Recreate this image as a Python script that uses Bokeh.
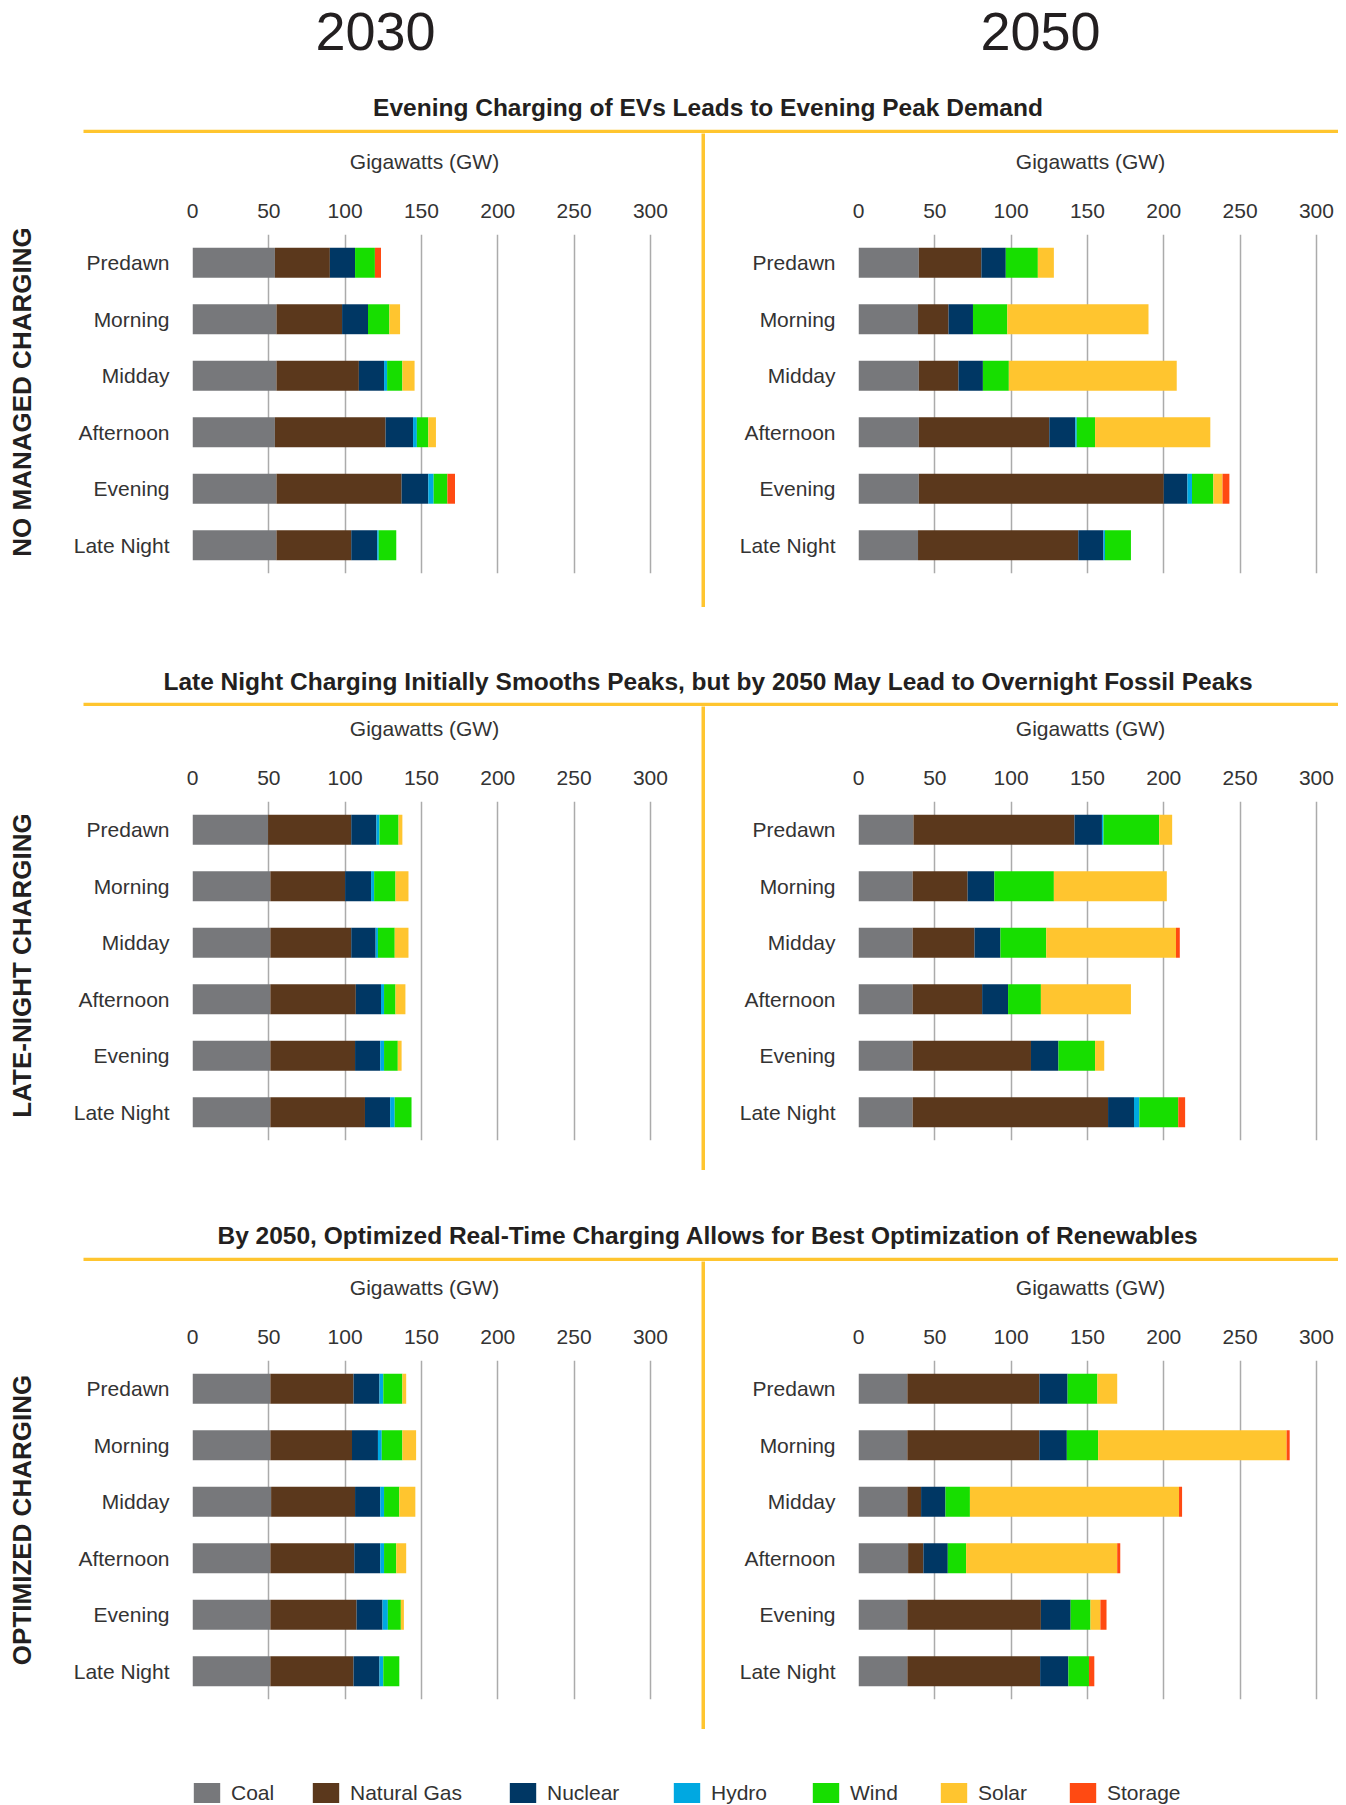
import math
from bokeh.plotting import figure
from bokeh.models import (Range1d, FactorRange, FixedTicker, Legend, LegendItem,
                          ColumnDataSource, Label)
from bokeh.layouts import column, row
from bokeh.embed import file_html
from bokeh.resources import INLINE
from bokeh.core.properties import value

# ---------------- data ----------------
periods = ["Predawn", "Morning", "Midday", "Afternoon", "Evening", "Late Night"]
sources = ["Coal", "Natural Gas", "Nuclear", "Hydro", "Wind", "Solar", "Storage"]
colors = ["#77787B", "#5B381C", "#003764", "#00A8E1", "#17DE00", "#FFC52F", "#FF4A12"]
years = ["2030", "2050"]
section_titles = [
    "Evening Charging of EVs Leads to Evening Peak Demand",
    "Late Night Charging Initially Smooths Peaks, but by 2050 May Lead to Overnight Fossil Peaks",
    "By 2050, Optimized Real-Time Charging Allows for Best Optimization of Renewables",
]
row_labels = ["NO MANAGED CHARGING", "LATE-NIGHT CHARGING", "OPTIMIZED CHARGING"]
ticks = [0, 50, 100, 150, 200, 250, 300]
axis_title = "Gigawatts (GW)"

# No managed charging, 2030 (GW)
nm30_coal = [54, 55, 55, 54, 55, 55]
nm30_gas = [36, 43, 54, 72.5, 82, 49]
nm30_nuclear = [16.5, 17, 16.5, 18, 17.5, 17]
nm30_hydro = [0, 0, 2, 2.5, 3.5, 1]
nm30_wind = [13, 14, 10, 7.5, 9, 11.5]
nm30_solar = [0, 7, 8, 5, 0, 0]
nm30_storage = [4, 0, 0, 0, 5, 0]

# No managed charging, 2050 (GW)
nm50_coal = [39.5, 39, 39.5, 39.5, 39.5, 39]
nm50_gas = [41, 20, 26, 85.5, 160.5, 105]
nm50_nuclear = [16, 16, 16, 17, 15.5, 16.5]
nm50_hydro = [0, 0, 0, 1, 3, 1]
nm50_wind = [21, 22.5, 17, 12, 14, 17]
nm50_solar = [10.5, 92.5, 110, 75.5, 6, 0]
nm50_storage = [0, 0, 0, 0, 4.5, 0]

# Late-night charging, 2030 (GW)
ln30_coal = [49.5, 51, 51, 51, 51, 51]
ln30_gas = [54.5, 49, 53, 56, 55.5, 62]
ln30_nuclear = [16.5, 17, 16, 16.5, 16.5, 16.5]
ln30_hydro = [2, 2, 1.5, 2, 2.5, 3]
ln30_wind = [12.5, 14, 11, 7.5, 9, 11]
ln30_solar = [2.5, 8.5, 9, 6.5, 2.5, 0]
ln30_storage = [0, 0, 0, 0, 0, 0]

# Late-night charging, 2050 (GW)
ln50_coal = [36, 35.5, 35.5, 35.5, 35.5, 35.5]
ln50_gas = [105.5, 36, 40.5, 45.5, 77.5, 128]
ln50_nuclear = [18, 17.5, 17, 17, 18, 17]
ln50_hydro = [1, 0, 0, 0, 0, 3.5]
ln50_wind = [36.5, 39, 30, 21.5, 24, 25.5]
ln50_solar = [8.5, 74, 85, 59, 6, 0]
ln50_storage = [0, 0, 2.5, 0, 0, 4.5]

# Optimized charging, 2030 (GW)
op30_coal = [51, 51, 51.5, 51, 51, 51]
op30_gas = [54.5, 53.5, 55, 55, 56.5, 54.5]
op30_nuclear = [17, 17, 16.5, 17, 17, 17]
op30_hydro = [2.5, 2.5, 2.5, 2.5, 3.5, 2.5]
op30_wind = [12.5, 13.5, 10, 8, 8.5, 10.5]
op30_solar = [2.5, 9, 10.5, 6.5, 2, 0]
op30_storage = [0, 0, 0, 0, 0, 0]

# Optimized charging, 2050 (GW)
op50_coal = [32, 32, 32, 32.5, 32, 32]
op50_gas = [86.5, 86.5, 9, 10, 87.5, 87]
op50_nuclear = [18.5, 18, 16, 16, 19.5, 18.5]
op50_hydro = [0, 0, 0, 0, 0, 0]
op50_wind = [19.5, 20.5, 16, 12, 13, 13.5]
op50_solar = [13, 123.5, 137, 99, 6.5, 0]
op50_storage = [0, 2, 2, 2, 4, 3.5]

panels = [
    ([nm30_coal, nm30_gas, nm30_nuclear, nm30_hydro, nm30_wind, nm30_solar, nm30_storage],
     [nm50_coal, nm50_gas, nm50_nuclear, nm50_hydro, nm50_wind, nm50_solar, nm50_storage]),
    ([ln30_coal, ln30_gas, ln30_nuclear, ln30_hydro, ln30_wind, ln30_solar, ln30_storage],
     [ln50_coal, ln50_gas, ln50_nuclear, ln50_hydro, ln50_wind, ln50_solar, ln50_storage]),
    ([op30_coal, op30_gas, op30_nuclear, op30_hydro, op30_wind, op30_solar, op30_storage],
     [op50_coal, op50_gas, op50_nuclear, op50_hydro, op50_wind, op50_solar, op50_storage]),
]

# ---------------- style / layout ----------------
FONT = "Liberation Sans"
TEXT = "#333333"
DARK = "#231F20"
YEL = "#FFC52F"
GRID = "#ABABAB"
W = 1338
FRAME_H = 339
X_END = 304
PX_PER_GW = 458 / 300.0
FRAME_W = int(round(X_END * PX_PER_GW))
legend_x = [190, 309, 506, 670, 809, 937, 1066]

title_heights = [133, 99, 91]
title_ys = [26, 25, 26]
row_heights = [474, 464, 468]
row_tops = [101, 95, 99]
label_ys = [215.5, 205, 209.5]


def canvas(w, h, bg="white"):
    p = figure(width=w, height=h, x_range=Range1d(0, w), y_range=Range1d(0, h),
               x_axis_type=None, y_axis_type=None, output_backend="svg",
               toolbar_location=None, min_border=0, background_fill_color=bg,
               border_fill_color=bg, frame_align=False)
    p.grid.visible = False
    p.outline_line_color = None
    return p


def chart(vals, width, border_left, rh, tb):
    p = figure(width=width, height=rh,
               y_range=FactorRange(*reversed(periods)),
               x_range=Range1d(0, X_END),
               x_axis_location="above", output_backend="svg", toolbar_location=None,
               min_border_left=border_left, min_border_right=width - border_left - FRAME_W,
               min_border_top=tb, min_border_bottom=rh - tb - FRAME_H)
    data = {"period": periods}
    for s, v in zip(sources, vals):
        data[s] = v
    p.hbar_stack(sources, y="period", height=0.53, fill_color=colors,
                 line_color=None, source=ColumnDataSource(data))
    p.xaxis.ticker = FixedTicker(ticks=ticks)
    p.xaxis.axis_label = axis_title
    p.xaxis.axis_label_text_font = FONT
    p.xaxis.axis_label_text_font_size = "21px"
    p.xaxis.axis_label_text_font_style = "normal"
    p.xaxis.axis_label_text_color = TEXT
    p.xaxis.axis_label_standoff = 28
    p.xaxis.major_label_standoff = 11
    for ax in (p.xaxis, p.yaxis):
        ax.axis_line_color = None
        ax.major_tick_line_color = None
        ax.minor_tick_line_color = None
        ax.major_label_text_font = FONT
        ax.major_label_text_font_size = "21px"
        ax.major_label_text_color = TEXT
    p.yaxis.major_tick_out = 0
    p.yaxis.major_label_standoff = 23
    p.xgrid.ticker = FixedTicker(ticks=ticks)
    p.xgrid.grid_line_color = GRID
    p.xgrid.grid_line_width = 1.5
    p.ygrid.grid_line_color = None
    p.outline_line_color = None
    return p


def title_fig(h, title, title_y, with_years=False):
    p = canvas(W, h)
    if with_years:
        p.text(x=[375, 1040], y=[h - 31, h - 31], text=years,
               text_font=value(FONT), text_font_size="54px", text_color=DARK,
               text_align="center", text_baseline="middle")
    p.text(x=[707.5], y=[title_y], text=[title], text_font=value(FONT),
           text_font_style="bold", text_font_size="24.5px", text_color=DARK,
           text_align="center", text_baseline="middle")
    p.segment(x0=[83], x1=[W], y0=[2], y1=[2], line_color=YEL, line_width=3.5)
    return p


def section_row(label, label_y, vals30, vals50, rh, tb):
    lab = canvas(60, rh)
    lab.add_layout(Label(x=21, y=label_y, text=label, angle=math.pi / 2,
                         text_font=FONT, text_font_style="bold",
                         text_font_size="26px", text_color=DARK,
                         text_align="center", text_baseline="middle"))
    left = chart(vals30, 641, 132, rh, tb)
    vline = canvas(4, rh, bg=YEL)
    right = chart(vals50, 633, 153, rh, tb)
    return row(lab, left, vline, right, spacing=0)


blocks = []
for i in range(3):
    blocks.append(title_fig(title_heights[i], section_titles[i], title_ys[i], with_years=(i == 0)))
    blocks.append(section_row(row_labels[i], label_ys[i], panels[i][0], panels[i][1],
                              row_heights[i], row_tops[i]))

# legend: one single-item legend per energy source
legend_h = 1805 - sum(title_heights) - sum(row_heights)
lg = canvas(W, legend_h)
for name, col, lx in zip(sources, colors, legend_x):
    r = lg.hbar(y=[0], left=[0], right=[0], height=0, fill_color=col, line_color=None)
    lg.add_layout(Legend(items=[LegendItem(label=name, renderers=[r])],
                         orientation="horizontal", location=(lx, 0),
                         glyph_width=33, glyph_height=25, label_standoff=8,
                         padding=0, margin=0, border_line_color=None,
                         background_fill_alpha=0, label_text_font=FONT,
                         label_text_font_size="21px", label_text_color=TEXT))
blocks.append(lg)

layout = column(*blocks, spacing=0)
open("out.html", "w").write(file_html(layout, INLINE))
